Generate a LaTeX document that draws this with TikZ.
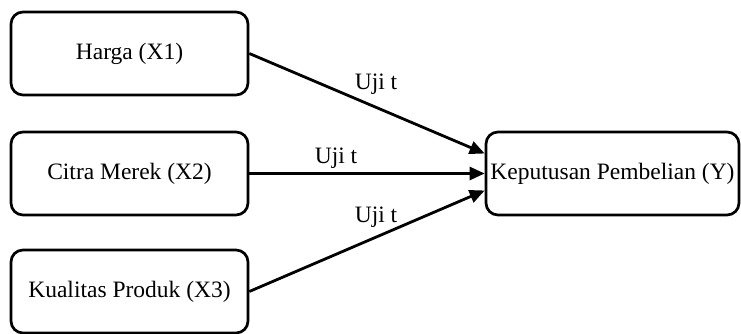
\documentclass[tikz,border=0pt]{standalone}
\usepackage{fontspec}
\setmainfont{Liberation Serif}
\usetikzlibrary{arrows.meta}
\begin{document}
\begin{tikzpicture}[x=1pt,y=-1pt,
  box/.style={draw=black,line width=2.7pt,rounded corners=12pt,minimum height=83pt,inner sep=0pt,font=\fontsize{23.5}{28}\selectfont},
  conn/.style={line width=2.8pt,-{Triangle[length=15pt,width=13pt]}},
  lbl/.style={font=\fontsize{23.5}{28}\selectfont,inner sep=0pt}]
\useasboundingbox (0,0) rectangle (741,334);
\node[box,minimum width=237pt] (x1) at (129.5,53.5) {Harga (X1)};
\node[box,minimum width=237pt] (x2) at (129.5,173.5) {Citra Merek (X2)};
\node[box,minimum width=237pt] (x3) at (129.5,291.5) {Kualitas Produk (X3)};
\node[box,minimum width=253pt] (y) at (612.5,173.5) {Keputusan Pembelian (Y)};
\coordinate (t1) at ([yshift=20pt]y.west);
\coordinate (t2) at (y.west);
\coordinate (t3) at ([yshift=-17pt]y.west);
\draw[conn] (x1.east) -- (t1);
\draw[conn] (x2.east) -- (t2);
\draw[conn] (x3.east) -- (t3);
\node[lbl] (l1) at (376,84) {Uji t};
\node[lbl] (l2) at (336,158) {Uji t};
\node[lbl] (l3) at (376,217) {Uji t};
\end{tikzpicture}
\end{document}
